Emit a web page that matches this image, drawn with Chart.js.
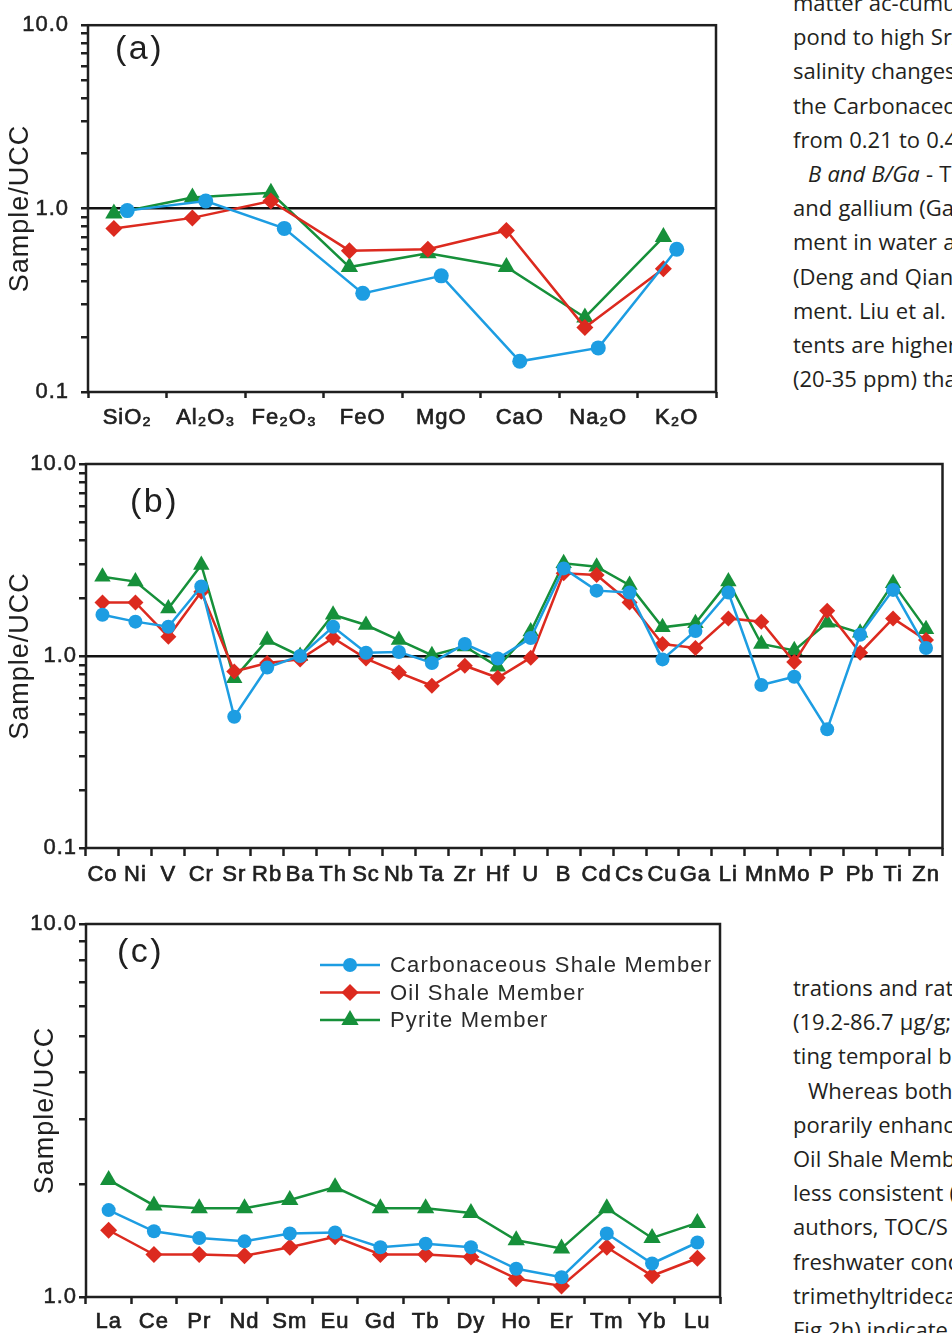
<!DOCTYPE html>
<html>
<head>
<meta charset="utf-8">
<script src="https://cdn.jsdelivr.net/npm/chart.js@4.4.1/dist/chart.umd.min.js"></script>
<style>
html,body{margin:0;padding:0;background:#fff;}
body{width:952px;height:1333px;position:relative;overflow:hidden;}
canvas{position:absolute;left:0;}
.txt{position:absolute;left:793px;width:159px;overflow:hidden;white-space:nowrap;font-family:'Open Sans',sans-serif;font-size:22px;line-height:34.2px;word-spacing:0.5px;color:#231f20;}
.ind{padding-left:15px;}
</style>
</head>
<body>
<canvas id="ca" width="730" height="432" style="top:0"></canvas>
<canvas id="cb" width="952" height="445" style="top:440px"></canvas>
<canvas id="cc" width="730" height="433" style="top:900px"></canvas>

<div class="txt" style="top:-15px">
<div>matter ac-cumulation</div>
<div>pond to high Sr/Ba</div>
<div>salinity changes</div>
<div>the Carbonaceous</div>
<div>from 0.21 to 0.45</div>
<div class="ind"><i>B and B/Ga</i> - The</div>
<div>and gallium (Ga)</div>
<div>ment in water and</div>
<div>(Deng and Qian</div>
<div>ment. Liu et al.</div>
<div>tents are higher</div>
<div>(20-35 ppm) than</div>
</div>

<div class="txt" style="top:970px">
<div>trations and ratios</div>
<div>(19.2-86.7 µg/g;</div>
<div>ting temporal basin</div>
<div class="ind">Whereas both</div>
<div>porarily enhanced</div>
<div>Oil Shale Member</div>
<div>less consistent (</div>
<div>authors, TOC/S</div>
<div>freshwater conditions</div>
<div>trimethyltridecane</div>
<div>Fig 2h) indicate</div>
</div>

<script>
// ---------- data ----------
const seriesNames = ['Carbonaceous Shale Member', 'Oil Shale Member', 'Pyrite Member'];

const majorLabels = ['SiO₂', 'Al₂O₃', 'Fe₂O₃', 'FeO', 'MgO', 'CaO', 'Na₂O', 'K₂O'];
const majorCarbonaceous = [0.975, 1.10, 0.78, 0.345, 0.43, 0.147, 0.174, 0.60];
const majorOilShale     = [0.78, 0.89, 1.10, 0.59, 0.60, 0.76, 0.225, 0.47];
const majorPyrite       = [0.94, 1.15, 1.22, 0.48, 0.57, 0.48, 0.255, 0.70];

const traceLabels = ['Co','Ni','V','Cr','Sr','Rb','Ba','Th','Sc','Nb','Ta','Zr','Hf','U','B','Cd','Cs','Cu','Ga','Li','Mn','Mo','P','Pb','Ti','Zn'];
const traceCarbonaceous = [1.64,1.51,1.42,2.30,0.483,0.87,1.00,1.42,1.04,1.05,0.92,1.155,0.97,1.24,2.86,2.19,2.14,0.96,1.35,2.14,0.706,0.78,0.415,1.29,2.21,1.10];
const traceOilShale     = [1.90,1.90,1.26,2.16,0.83,0.92,0.96,1.24,0.97,0.82,0.70,0.89,0.77,0.98,2.70,2.64,1.90,1.155,1.10,1.57,1.51,0.93,1.72,1.04,1.57,1.21];
const tracePyrite       = [2.59,2.44,1.77,2.98,0.765,1.21,1.00,1.64,1.45,1.21,1.01,1.12,0.88,1.34,3.04,2.92,2.34,1.41,1.48,2.44,1.155,1.07,1.49,1.32,2.39,1.38];

const reeLabels = ['La','Ce','Pr','Nd','Sm','Eu','Gd','Tb','Dy','Ho','Er','Tm','Yb','Lu'];
const reeCarbonaceous = [1.71,1.50,1.44,1.41,1.48,1.49,1.36,1.39,1.36,1.19,1.13,1.48,1.23,1.40];
const reeOilShale     = [1.51,1.30,1.30,1.29,1.36,1.45,1.30,1.30,1.28,1.12,1.07,1.36,1.14,1.27];
const reePyrite       = [2.06,1.76,1.73,1.73,1.82,1.97,1.73,1.73,1.68,1.42,1.35,1.73,1.44,1.58];

const ticksWide = [0.1,0.2,0.3,0.4,0.5,0.6,0.7,0.8,0.9,1,2,3,4,5,6,7,8,9,10];
const ticksNarrow = [1,2,3,4,5,6,7,8,9,10];

// ---------- styles ----------
const COLORS = ['#1d9de2', '#dc2a1f', '#16903a'];
const POINT_STYLES = ['circle', 'rectRot', 'triangle'];
const INK = '#1f1f1f';
const FONT = "'Liberation Sans', Arial, sans-serif";
Chart.defaults.font.family = FONT;
Chart.defaults.color = INK;

const letterSpacingPlugin = {
  id: 'ls',
  beforeDraw(chart) { chart.ctx.letterSpacing = '1px'; }
};

const framePlugin = {
  id: 'frame',
  afterDatasetsDraw(chart, args, opts) {
    const {ctx, chartArea: a} = chart;
    ctx.save();
    ctx.strokeStyle = INK;
    ctx.lineWidth = 2.5;
    ctx.strokeRect(a.left, a.top, a.right - a.left, a.bottom - a.top);
    ctx.letterSpacing = '2.5px';
    ctx.font = '34px ' + FONT;
    ctx.fillStyle = INK;
    ctx.textBaseline = 'alphabetic';
    ctx.textAlign = 'left';
    ctx.fillText(opts.panel, a.left + opts.px, a.top + opts.py);
    ctx.restore();
  }
};

const insideLegendPlugin = {
  id: 'insideLegend',
  afterDatasetsDraw(chart, args, opts) {
    if (!opts.show) return;
    const {ctx, chartArea: a} = chart;
    ctx.save();
    ctx.letterSpacing = '1.2px';
    ctx.font = '22px ' + FONT;
    ctx.textBaseline = 'middle';
    ctx.textAlign = 'left';
    chart.data.datasets.forEach((ds, k) => {
      const y = a.top + opts.y0 + k * opts.dy;
      const x0 = a.left + opts.x0;
      ctx.strokeStyle = ds.borderColor;
      ctx.lineWidth = 2.5;
      ctx.beginPath();
      ctx.moveTo(x0, y);
      ctx.lineTo(x0 + opts.len, y);
      ctx.stroke();
      ctx.fillStyle = ds.backgroundColor;
      Chart.helpers.drawPoint(ctx, {pointStyle: ds.pointStyle, radius: ds.pointRadius, rotation: 0, borderWidth: 0}, x0 + opts.len / 2, y);
      ctx.fillStyle = '#2a2a2a';
      ctx.fillText(ds.label, x0 + opts.len + 10, y + 1);
    });
    ctx.restore();
  }
};

function makeChart(id, cfg) {
  const n = cfg.labels.length;
  const datasets = cfg.series.map((vals, k) => ({
    label: seriesNames[k],
    data: vals.map((v, i) => ({x: i + cfg.offsets[k], y: v})),
    xAxisID: 'xd',
    yAxisID: 'y',
    borderColor: COLORS[k],
    backgroundColor: COLORS[k],
    borderWidth: 2.5,
    pointStyle: POINT_STYLES[k],
    pointRadius: cfg.radii[k],
    pointHoverRadius: cfg.radii[k],
    pointBorderWidth: 0,
    tension: 0
  }));
  return new Chart(document.getElementById(id), {
    type: 'line',
    data: {datasets},
    options: {
      responsive: false,
      animation: false,
      events: [],
      layout: {padding: {top: 24, right: cfg.padRight, bottom: 0, left: 0}},
      plugins: {
        legend: {display: false},
        tooltip: {enabled: false},
        frame: {panel: cfg.panel, px: cfg.panelX, py: cfg.panelY},
        insideLegend: cfg.legend || {show: false}
      },
      scales: {
        x: {
          type: 'category',
          labels: cfg.labels,
          position: 'bottom',
          offset: true,
          grid: {offset: true, drawOnChartArea: false, drawTicks: true, tickLength: cfg.xTickLen, tickColor: INK, tickWidth: 2.5},
          border: {display: false},
          ticks: {autoSkip: false, maxRotation: 0, minRotation: 0, padding: cfg.xPad, color: INK, font: {size: 22},
                  textStrokeColor: INK, textStrokeWidth: 0.7},
          afterFit: s => { s.height = cfg.xAxisH; }
        },
        xd: {type: 'linear', min: -0.5, max: n - 0.5, display: false},
        y: {
          type: 'logarithmic',
          position: 'left',
          min: cfg.yTicks[0],
          max: cfg.yTicks[cfg.yTicks.length - 1],
          afterBuildTicks: s => { s.ticks = cfg.yTicks.map(v => ({value: v})); },
          ticks: {
            autoSkip: false,
            callback: v => (v === 0.1 || v === 1 || v === 10) ? v.toFixed(1) : '',
            padding: cfg.yPad, color: INK, font: {size: 22},
            textStrokeColor: INK, textStrokeWidth: 0.5
          },
          grid: {
            color: c => (cfg.unity && c.tick && c.tick.value === 1) ? '#111' : 'rgba(0,0,0,0)',
            lineWidth: 2.5,
            drawTicks: true, tickLength: 7, tickColor: INK, tickWidth: 2.5
          },
          border: {display: false},
          title: {display: true, text: 'Sample/UCC', color: INK, font: {size: 27}, padding: {top: cfg.titlePad, bottom: 0}},
          afterFit: s => { s.width = cfg.yAxisW; }
        }
      }
    },
    plugins: [letterSpacingPlugin, framePlugin, insideLegendPlugin]
  });
}

makeChart('ca', {
  labels: majorLabels,
  series: [majorCarbonaceous, majorOilShale, majorPyrite],
  offsets: [0, -0.17, -0.17],
  radii: [7.5, 8.5, 10],
  yTicks: ticksWide, unity: true,
  padRight: 14, yAxisW: 88, xAxisH: 40,
  xTickLen: 6, xPad: 7, yPad: 12, titlePad: 4,
  panel: '(a)', panelX: 27, panelY: 34
});

makeChart('cb', {
  labels: traceLabels,
  series: [traceCarbonaceous, traceOilShale, tracePyrite],
  offsets: [0, 0, 0],
  radii: [7, 8, 9.5],
  yTicks: ticksWide, unity: true,
  padRight: 1, yAxisW: 86, xAxisH: 37,
  xTickLen: 8, xPad: 6, yPad: 2, titlePad: 4,
  panel: '(b)', panelX: 44, panelY: 48
});

makeChart('cc', {
  labels: reeLabels,
  series: [reeCarbonaceous, reeOilShale, reePyrite],
  offsets: [0, 0, 0],
  radii: [7, 8.5, 10],
  yTicks: ticksNarrow, unity: false,
  padRight: 10, yAxisW: 86, xAxisH: 36,
  xTickLen: 7, xPad: 5, yPad: 2, titlePad: 29,
  panel: '(c)', panelX: 31, panelY: 38,
  legend: {show: true, x0: 234, len: 60, y0: 41, dy: 27.5}
});
</script>
</body>
</html>
